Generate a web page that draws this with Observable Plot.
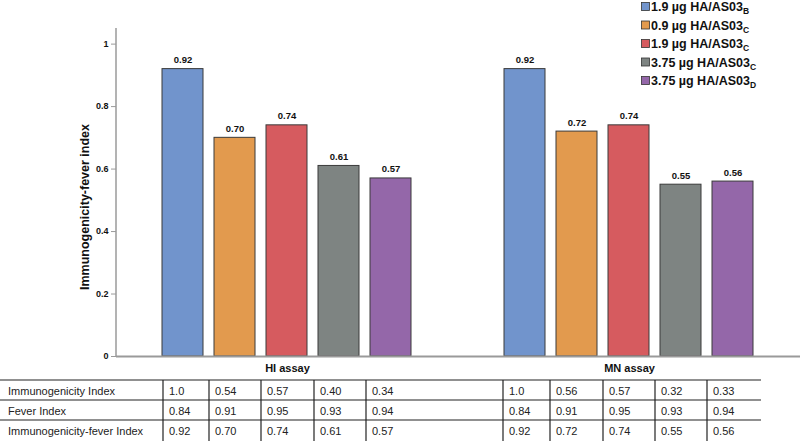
<!DOCTYPE html>
<html><head><meta charset="utf-8">
<script src="https://cdn.jsdelivr.net/npm/d3@7"></script>
<script src="https://cdn.jsdelivr.net/npm/@observablehq/plot@0.6"></script>
<style>
body{margin:0;background:#fff;font-family:"Liberation Sans",Arial,sans-serif;}
#wrap{position:relative;width:800px;height:441px;overflow:hidden;}
</style></head><body><div id="wrap"></div>
<script>
const assays = ["HI assay", "MN assay"];
const groups = ["1.9 µg HA/AS03B", "0.9 µg HA/AS03C", "1.9 µg HA/AS03C ", "3.75 µg HA/AS03C", "3.75 µg HA/AS03D"];
const groupBase = ["1.9 µg HA/AS03", "0.9 µg HA/AS03", "1.9 µg HA/AS03", "3.75 µg HA/AS03", "3.75 µg HA/AS03"];
const groupSub = ["B", "C", "C", "C", "D"];
const colors = ["#7194cc", "#e29a4e", "#d65b5f", "#7e8482", "#9467a9"];
const hiIndex = [0.92, 0.70, 0.74, 0.61, 0.57];
const mnIndex = [0.92, 0.72, 0.74, 0.55, 0.56];
const yTicks = [0, 0.2, 0.4, 0.6, 0.8, 1];
const rowLabels = ["Immunogenicity Index", "Fever Index", "Immunogenicity-fever Index"];
const hiTable = [["1.0","0.54","0.57","0.40","0.34"],["0.84","0.91","0.95","0.93","0.94"],["0.92","0.70","0.74","0.61","0.57"]];
const mnTable = [["1.0","0.56","0.57","0.32","0.33"],["0.84","0.91","0.95","0.93","0.94"],["0.92","0.72","0.74","0.55","0.56"]];

const data = assays.flatMap((a, i) => groups.map((g, j) => ({assay: a, group: g, value: (i ? mnIndex : hiIndex)[j]})));

const font = "Liberation Sans, Arial, sans-serif";
const chart = Plot.plot({
  width: 800, height: 441,
  marginLeft: 116, marginRight: 0, marginTop: 28, marginBottom: 85,
  style: {fontFamily: font, background: "#fff", color: "#111"},
  fx: {domain: assays, padding: 0, label: null},
  x: {domain: groups, paddingInner: 0.21, paddingOuter: 0.855, axis: null},
  y: {domain: [0, 1.05], label: null},
  color: {domain: groups, range: colors},
  marks: [
    Plot.barY(data, {fx: "assay", x: "group", y: "value", fill: "group", stroke: "#3a3a3a", strokeWidth: 1}),
    Plot.text(data, {fx: "assay", x: "group", y: "value", text: d => d.value.toFixed(2), dy: -9, fontWeight: "bold", fontSize: 9.5, fill: "#111"}),
    Plot.ruleY([0], {stroke: "#9a9a9a", strokeWidth: 2}),
    Plot.axisY({ticks: yTicks, tickFormat: d => String(d), tickSize: 5, tickPadding: 3, stroke: "#9a9a9a", fontWeight: "bold", fontSize: 9, label: null}),
    Plot.axisFx({anchor: "bottom", tickSize: 0, tickPadding: 8, fontWeight: "bold", fontSize: 11, label: null})
  ]
});
document.getElementById("wrap").appendChild(chart);

const svg = d3.select(chart);
const y = chart.scale("y");
// y axis line
svg.append("line").attr("x1", 116).attr("x2", 116).attr("y1", y.apply(1.05)).attr("y2", y.apply(0))
  .attr("stroke", "#9a9a9a").attr("stroke-width", 1.5);
// y title
svg.append("text").attr("transform", `translate(89,${(y.apply(1.05) + y.apply(0)) / 2 + 15}) rotate(-90)`)
  .attr("text-anchor", "middle").attr("font-weight", "bold").attr("font-size", 12.5).attr("font-family", font)
  .attr("fill", "#111").text("Immunogenicity-fever index");

// legend
const leg = svg.append("g").attr("text-anchor", "start");
groups.forEach((g, i) => {
  const cy = 6.5 + i * 18.5;
  leg.append("rect").attr("x", 641.5).attr("y", cy - 4).attr("width", 8).attr("height", 8)
    .attr("fill", colors[i]).attr("stroke", "#333").attr("stroke-width", 0.8);
  const t = leg.append("text").attr("x", 651).attr("y", cy).attr("dy", "0.36em")
    .attr("font-weight", "bold").attr("font-size", 12.5).attr("font-family", font).attr("fill", "#111");
  t.append("tspan").text(groupBase[i]);
  t.append("tspan").attr("font-size", 8.5).attr("dy", 3).text(groupSub[i]);
});

// table
const tbl = svg.append("g").attr("text-anchor", "start");
const rowLines = [380, 400, 420];
const colEdges = [163, 209, 261, 314, 366, 503, 550, 603, 655, 707];
rowLines.forEach(ry => tbl.append("line").attr("x1", 0).attr("x2", 761).attr("y1", ry).attr("y2", ry)
  .attr("stroke", "#222").attr("stroke-width", 1.2));
colEdges.forEach(cx => tbl.append("line").attr("x1", cx).attr("x2", cx).attr("y1", 380).attr("y2", 441)
  .attr("stroke", "#222").attr("stroke-width", 1.2));
rowLabels.forEach((lab, r) => {
  const cy = rowLines[r] + 11.5;
  tbl.append("text").attr("x", 8).attr("y", cy).attr("dy", "0.35em").attr("font-size", 11)
    .attr("font-family", font).attr("fill", "#222").text(lab);
  hiTable[r].concat(mnTable[r]).forEach((v, c) => {
    tbl.append("text").attr("x", colEdges[c] + 6).attr("y", cy).attr("dy", "0.35em").attr("font-size", 11)
      .attr("font-family", font).attr("fill", "#222").text(v);
  });
});
</script></body></html>
